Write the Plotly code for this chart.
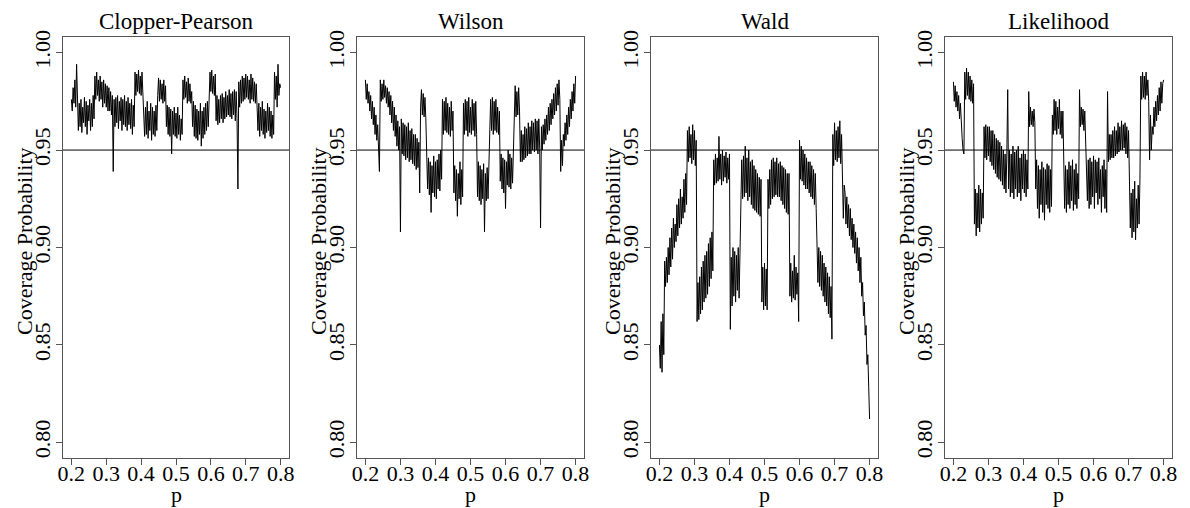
import plotly.graph_objects as go

# p grid (read along the x axis, step 0.0025)
p_values = [
    0.2000, 0.2025, 0.2050, 0.2075, 0.2100, 0.2125, 0.2150, 0.2175,
    0.2200, 0.2225, 0.2250, 0.2275, 0.2300, 0.2325, 0.2350, 0.2375,
    0.2400, 0.2425, 0.2450, 0.2475, 0.2500, 0.2525, 0.2550, 0.2575,
    0.2600, 0.2625, 0.2650, 0.2675, 0.2700, 0.2725, 0.2750, 0.2775,
    0.2800, 0.2825, 0.2850, 0.2875, 0.2900, 0.2925, 0.2950, 0.2975,
    0.3000, 0.3025, 0.3050, 0.3075, 0.3100, 0.3125, 0.3150, 0.3175,
    0.3200, 0.3225, 0.3250, 0.3275, 0.3300, 0.3325, 0.3350, 0.3375,
    0.3400, 0.3425, 0.3450, 0.3475, 0.3500, 0.3525, 0.3550, 0.3575,
    0.3600, 0.3625, 0.3650, 0.3675, 0.3700, 0.3725, 0.3750, 0.3775,
    0.3800, 0.3825, 0.3850, 0.3875, 0.3900, 0.3925, 0.3950, 0.3975,
    0.4000, 0.4025, 0.4050, 0.4075, 0.4100, 0.4125, 0.4150, 0.4175,
    0.4200, 0.4225, 0.4250, 0.4275, 0.4300, 0.4325, 0.4350, 0.4375,
    0.4400, 0.4425, 0.4450, 0.4475, 0.4500, 0.4525, 0.4550, 0.4575,
    0.4600, 0.4625, 0.4650, 0.4675, 0.4700, 0.4725, 0.4750, 0.4775,
    0.4800, 0.4825, 0.4850, 0.4875, 0.4900, 0.4925, 0.4950, 0.4975,
    0.5000, 0.5025, 0.5050, 0.5075, 0.5100, 0.5125, 0.5150, 0.5175,
    0.5200, 0.5225, 0.5250, 0.5275, 0.5300, 0.5325, 0.5350, 0.5375,
    0.5400, 0.5425, 0.5450, 0.5475, 0.5500, 0.5525, 0.5550, 0.5575,
    0.5600, 0.5625, 0.5650, 0.5675, 0.5700, 0.5725, 0.5750, 0.5775,
    0.5800, 0.5825, 0.5850, 0.5875, 0.5900, 0.5925, 0.5950, 0.5975,
    0.6000, 0.6025, 0.6050, 0.6075, 0.6100, 0.6125, 0.6150, 0.6175,
    0.6200, 0.6225, 0.6250, 0.6275, 0.6300, 0.6325, 0.6350, 0.6375,
    0.6400, 0.6425, 0.6450, 0.6475, 0.6500, 0.6525, 0.6550, 0.6575,
    0.6600, 0.6625, 0.6650, 0.6675, 0.6700, 0.6725, 0.6750, 0.6775,
    0.6800, 0.6825, 0.6850, 0.6875, 0.6900, 0.6925, 0.6950, 0.6975,
    0.7000, 0.7025, 0.7050, 0.7075, 0.7100, 0.7125, 0.7150, 0.7175,
    0.7200, 0.7225, 0.7250, 0.7275, 0.7300, 0.7325, 0.7350, 0.7375,
    0.7400, 0.7425, 0.7450, 0.7475, 0.7500, 0.7525, 0.7550, 0.7575,
    0.7600, 0.7625, 0.7650, 0.7675, 0.7700, 0.7725, 0.7750, 0.7775,
    0.7800, 0.7825, 0.7850, 0.7875, 0.7900, 0.7925, 0.7950, 0.7975,
    0.8000,
]

clopper_pearson = [
    0.976, 0.970, 0.982, 0.974,  0.986, 0.972, 0.994, 0.968,
    0.960, 0.974, 0.962, 0.976,  0.959, 0.972, 0.964, 0.977,
    0.962, 0.975, 0.958, 0.973,  0.965, 0.976, 0.960, 0.974,
    0.962, 0.978, 0.966, 0.988,  0.976, 0.990, 0.978, 0.986,
    0.975, 0.988, 0.976, 0.985,  0.972, 0.986, 0.974, 0.984,
    0.972, 0.983, 0.970, 0.982,  0.970, 0.980, 0.968, 0.978,
    0.939, 0.976, 0.962, 0.977,  0.964, 0.978, 0.961, 0.975,
    0.965, 0.977, 0.960, 0.976,  0.963, 0.978, 0.962, 0.975,
    0.960, 0.977, 0.963, 0.974,  0.961, 0.976, 0.958, 0.973,
    0.962, 0.990, 0.978, 0.989,  0.980, 0.991, 0.979, 0.988,
    0.978, 0.990, 0.976, 0.964,  0.957, 0.972, 0.958, 0.975,
    0.956, 0.970, 0.960, 0.974,  0.955, 0.972, 0.958, 0.970,
    0.957, 0.973, 0.960, 0.978,  0.987, 0.975, 0.986, 0.976,
    0.984, 0.974, 0.986, 0.975,  0.983, 0.962, 0.973, 0.958,
    0.972, 0.957, 0.971, 0.948,  0.970, 0.958, 0.972, 0.957,
    0.969, 0.956, 0.972, 0.958,  0.968, 0.955, 0.966, 0.958,
    0.986, 0.976, 0.988, 0.977,  0.985, 0.974, 0.987, 0.975,
    0.984, 0.974, 0.980, 0.962,  0.975, 0.957, 0.973, 0.956,
    0.971, 0.955, 0.970, 0.958,  0.974, 0.952, 0.970, 0.956,
    0.972, 0.958, 0.974, 0.960,  0.975, 0.962, 0.976, 0.990,
    0.980, 0.991, 0.979, 0.988,  0.978, 0.989, 0.965, 0.978,
    0.963, 0.976, 0.964, 0.978,  0.966, 0.979, 0.964, 0.977,
    0.966, 0.980, 0.967, 0.978,  0.968, 0.981, 0.967, 0.979,
    0.966, 0.980, 0.968, 0.981,  0.965, 0.980, 0.966, 0.930,
    0.985, 0.972, 0.986, 0.974,  0.988, 0.975, 0.987, 0.976,
    0.989, 0.977, 0.988, 0.976,  0.986, 0.974, 0.989, 0.976,
    0.987, 0.975, 0.985, 0.974,  0.984, 0.972, 0.960, 0.974,
    0.957, 0.972, 0.960, 0.975,  0.958, 0.971, 0.956, 0.970,
    0.959, 0.974, 0.960, 0.972,  0.957, 0.970, 0.956, 0.968,
    0.958, 0.990, 0.976, 0.988,  0.972, 0.994, 0.978, 0.984,
    0.982,
]

wilson = [
    0.986, 0.976, 0.984, 0.974,  0.980, 0.970, 0.978, 0.966,
    0.975, 0.963, 0.972, 0.958,  0.968, 0.955, 0.963, 0.950,
    0.939, 0.986, 0.975, 0.984,  0.976, 0.986, 0.977, 0.983,
    0.974, 0.982, 0.972, 0.980,  0.968, 0.978, 0.964, 0.975,
    0.960, 0.972, 0.957, 0.968,  0.952, 0.965, 0.950, 0.962,
    0.908, 0.966, 0.948, 0.964,  0.947, 0.963, 0.945, 0.962,
    0.946, 0.964, 0.944, 0.960,  0.945, 0.961, 0.943, 0.958,
    0.942, 0.958, 0.940, 0.956,  0.941, 0.954, 0.928, 0.972,
    0.981, 0.968, 0.979, 0.967,  0.977, 0.966, 0.940, 0.930,
    0.946, 0.927, 0.944, 0.918,  0.942, 0.928, 0.947, 0.926,
    0.944, 0.925, 0.945, 0.930,  0.948, 0.929, 0.950, 0.935,
    0.976, 0.958, 0.975, 0.960,  0.977, 0.959, 0.974, 0.958,
    0.972, 0.957, 0.975, 0.960,  0.970, 0.928, 0.942, 0.924,
    0.940, 0.916, 0.938, 0.925,  0.944, 0.922, 0.940, 0.926,
    0.974, 0.958, 0.976, 0.960,  0.975, 0.957, 0.977, 0.959,
    0.972, 0.958, 0.976, 0.960,  0.974, 0.957, 0.975, 0.958,
    0.926, 0.944, 0.924, 0.942,  0.922, 0.940, 0.925, 0.943,
    0.908, 0.938, 0.924, 0.941,  0.925, 0.945, 0.958, 0.976,
    0.960, 0.977, 0.958, 0.975,  0.960, 0.976, 0.959, 0.972,
    0.958, 0.970, 0.934, 0.948,  0.930, 0.946, 0.928, 0.945,
    0.920, 0.944, 0.932, 0.950,  0.931, 0.948, 0.930, 0.946,
    0.933, 0.950, 0.968, 0.983,  0.967, 0.980, 0.968, 0.982,
    0.970, 0.944, 0.960, 0.944,  0.958, 0.945, 0.962, 0.946,
    0.961, 0.947, 0.964, 0.948,  0.962, 0.948, 0.965, 0.950,
    0.964, 0.949, 0.966, 0.950,  0.965, 0.948, 0.966, 0.951,
    0.910, 0.962, 0.950, 0.963,  0.953, 0.966, 0.955, 0.968,
    0.958, 0.972, 0.960, 0.974,  0.963, 0.976, 0.966, 0.979,
    0.968, 0.982, 0.970, 0.984,  0.973, 0.986, 0.976, 0.939,
    0.955, 0.942, 0.958, 0.952,  0.964, 0.955, 0.968, 0.958,
    0.972, 0.962, 0.976, 0.966,  0.980, 0.970, 0.984, 0.974,
    0.988,
]

wald = [
    0.850, 0.838, 0.862, 0.836,  0.866, 0.845, 0.893, 0.880,
    0.895, 0.882, 0.900, 0.886,  0.905, 0.890, 0.910, 0.894,
    0.915, 0.900, 0.912, 0.903,  0.922, 0.906, 0.925, 0.910,
    0.930, 0.912, 0.926, 0.915,  0.935, 0.918, 0.938, 0.922,
    0.960, 0.944, 0.962, 0.946,  0.958, 0.943, 0.963, 0.945,
    0.960, 0.942, 0.955, 0.862,  0.882, 0.863, 0.885, 0.866,
    0.890, 0.868, 0.893, 0.872,  0.896, 0.874, 0.898, 0.876,
    0.902, 0.880, 0.905, 0.884,  0.908, 0.888, 0.945, 0.932,
    0.948, 0.933, 0.946, 0.934,  0.957, 0.935, 0.948, 0.932,
    0.950, 0.934, 0.947, 0.936,  0.949, 0.933, 0.946, 0.935,
    0.948, 0.858, 0.895, 0.870,  0.900, 0.875, 0.898, 0.872,
    0.896, 0.878, 0.900, 0.874,  0.897, 0.930, 0.945, 0.925,
    0.947, 0.926, 0.952, 0.928,  0.946, 0.924, 0.950, 0.926,
    0.944, 0.922, 0.945, 0.920,  0.942, 0.919, 0.940, 0.918,
    0.938, 0.917, 0.936, 0.916,  0.935, 0.872, 0.890, 0.868,
    0.892, 0.870, 0.889, 0.868,  0.935, 0.920, 0.940, 0.922,
    0.945, 0.925, 0.946, 0.926,  0.944, 0.927, 0.946, 0.926,
    0.943, 0.926, 0.944, 0.924,  0.942, 0.922, 0.941, 0.920,
    0.940, 0.918, 0.938, 0.917,  0.938, 0.875, 0.892, 0.872,
    0.888, 0.874, 0.896, 0.873,  0.890, 0.876, 0.887, 0.862,
    0.955, 0.935, 0.952, 0.934,  0.950, 0.932, 0.948, 0.930,
    0.946, 0.930, 0.944, 0.928,  0.944, 0.926, 0.942, 0.925,
    0.940, 0.922, 0.938, 0.920,  0.905, 0.882, 0.900, 0.880,
    0.898, 0.878, 0.896, 0.875,  0.892, 0.872, 0.890, 0.870,
    0.887, 0.866, 0.885, 0.864,  0.880, 0.853, 0.958, 0.942,
    0.964, 0.945, 0.960, 0.944,  0.962, 0.946, 0.965, 0.943,
    0.958, 0.930, 0.915, 0.932,  0.928, 0.912, 0.926, 0.910,
    0.922, 0.906, 0.920, 0.904,  0.915, 0.900, 0.912, 0.897,
    0.908, 0.892, 0.905, 0.888,  0.900, 0.882, 0.895, 0.875,
    0.882, 0.865, 0.872, 0.855,  0.860, 0.840, 0.845, 0.828,
    0.812,
]

likelihood = [
    0.985, 0.975, 0.983, 0.972,  0.980, 0.970, 0.978, 0.966,
    0.974, 0.960, 0.956, 0.950,  0.948, 0.990, 0.976, 0.992,
    0.978, 0.990, 0.976, 0.988,  0.975, 0.986, 0.974, 0.984,
    0.912, 0.930, 0.906, 0.928,  0.910, 0.932, 0.908, 0.930,
    0.912, 0.928, 0.915, 0.962,  0.946, 0.963, 0.945, 0.962,
    0.947, 0.962, 0.944, 0.960,  0.942, 0.960, 0.940, 0.958,
    0.938, 0.956, 0.936, 0.955,  0.935, 0.954, 0.934, 0.952,
    0.932, 0.950, 0.930, 0.948,  0.928, 0.948, 0.981, 0.930,
    0.950, 0.926, 0.948, 0.928,  0.952, 0.925, 0.949, 0.930,
    0.950, 0.926, 0.952, 0.928,  0.946, 0.924, 0.948, 0.930,
    0.950, 0.928, 0.948, 0.926,  0.945, 0.930, 0.980, 0.962,
    0.972, 0.963, 0.970, 0.962,  0.971, 0.964, 0.930, 0.945,
    0.920, 0.942, 0.915, 0.940,  0.922, 0.944, 0.918, 0.941,
    0.914, 0.940, 0.922, 0.943,  0.920, 0.942, 0.918, 0.940,
    0.921, 0.968, 0.958, 0.976,  0.960, 0.975, 0.958, 0.972,
    0.961, 0.976, 0.958, 0.970,  0.956, 0.970, 0.938, 0.920,
    0.942, 0.918, 0.940, 0.922,  0.944, 0.920, 0.942, 0.924,
    0.945, 0.919, 0.940, 0.922,  0.943, 0.920, 0.938, 0.925,
    0.981, 0.962, 0.972, 0.963,  0.971, 0.960, 0.970, 0.958,
    0.942, 0.924, 0.945, 0.920,  0.946, 0.922, 0.944, 0.926,
    0.947, 0.920, 0.945, 0.928,  0.944, 0.922, 0.946, 0.925,
    0.940, 0.918, 0.942, 0.926,  0.945, 0.920, 0.940, 0.918,
    0.980, 0.944, 0.958, 0.945,  0.958, 0.946, 0.960, 0.946,
    0.962, 0.947, 0.960, 0.948,  0.964, 0.949, 0.962, 0.950,
    0.965, 0.950, 0.963, 0.951,  0.964, 0.948, 0.962, 0.946,
    0.960, 0.930, 0.910, 0.928,  0.905, 0.930, 0.908, 0.934,
    0.904, 0.925, 0.910, 0.932,  0.912, 0.935, 0.988, 0.976,
    0.990, 0.977, 0.988, 0.976,  0.990, 0.978, 0.986, 0.975,
    0.945, 0.968, 0.950, 0.962,  0.958, 0.972, 0.962, 0.975,
    0.965, 0.978, 0.968, 0.982,  0.970, 0.985, 0.974, 0.984,
    0.986,
]

panel_titles = ["Clopper-Pearson", "Wilson", "Wald", "Likelihood"]
series = [clopper_pearson, wilson, wald, likelihood]
nominal_level = 0.95
x_title = "p"
y_title = "Coverage Probability"

x_ticks = [0.2, 0.3, 0.4, 0.5, 0.6, 0.7, 0.8]
x_tick_labels = ["0.2", "0.3", "0.4", "0.5", "0.6", "0.7", "0.8"]
y_ticks = [0.80, 0.85, 0.90, 0.95, 1.00]
y_tick_labels = ["0.80", "0.85", "0.90", "0.95", "1.00"]

# the page body has an 8px margin, so the figure is drawn 8px in from the corner
OFF = 8
W, H = 1190 - OFF, 508 - OFF
FONT = "Liberation Serif"
AXIS_COLOR = "#555555"
TXT = dict(family=FONT, size=22, color="black")

panel_px = [(63 - OFF, 289 - OFF), (357 - OFF, 584 - OFF),
            (651 - OFF, 878 - OFF), (945 - OFF, 1172 - OFF)]
top_px, bottom_px = 37 - OFF, 458 - OFF
y_domain = [(H - bottom_px) / H, (H - top_px) / H]

fig = go.Figure()
layout = dict(
    width=W, height=H,
    margin=dict(l=0, r=0, t=0, b=0, autoexpand=False),
    paper_bgcolor="white", plot_bgcolor="white",
    showlegend=False,
    font=TXT,
)

annotations = []
shapes = []
for i, (title, vals) in enumerate(zip(panel_titles, series)):
    n = "" if i == 0 else str(i + 1)
    fig.add_trace(go.Scatter(
        x=p_values, y=vals, mode="lines",
        line=dict(color="black", width=1),
        xaxis="x" + n, yaxis="y" + n, hoverinfo="skip",
    ))
    x0, x1 = panel_px[i]
    layout["xaxis" + n] = dict(
        domain=[x0 / W, x1 / W], anchor="y" + n,
        range=[0.176, 0.824], automargin=False,
        tickmode="array", tickvals=x_ticks, ticktext=x_tick_labels,
        showgrid=False, zeroline=False,
        showline=True, mirror=True, linecolor=AXIS_COLOR, linewidth=1,
        ticks="outside", ticklen=6, tickcolor=AXIS_COLOR, tickwidth=1,
        tickfont=TXT, ticklabelstandoff=-10,
        fixedrange=True,
    )
    layout["yaxis" + n] = dict(
        domain=y_domain, anchor="x" + n,
        range=[0.792, 1.008], automargin=False,
        tickmode="array", tickvals=y_ticks, ticktext=y_tick_labels,
        tickangle=-90, ticklabelstandoff=-3,
        showgrid=False, zeroline=False,
        showline=True, mirror=True, linecolor=AXIS_COLOR, linewidth=1,
        ticks="outside", ticklen=6, tickcolor=AXIS_COLOR, tickwidth=1,
        tickfont=TXT,
        fixedrange=True,
    )
    shapes.append(dict(
        type="line", xref="x" + n + " domain", yref="y" + n,
        x0=0, x1=1, y0=nominal_level, y1=nominal_level,
        line=dict(color="black", width=1),
    ))
    annotations.append(dict(
        text=title, xref="paper", yref="paper",
        x=(x0 + x1) / 2 / W, y=1.0,
        xanchor="center", yanchor="top", showarrow=False, borderpad=0,
        font=dict(family=FONT, size=23, color="black"),
    ))
    annotations.append(dict(
        text=y_title, xref="paper", yref="paper",
        x=(x0 - 38) / W, y=(H - (241 - OFF)) / H, textangle=-90,
        xanchor="center", yanchor="middle", showarrow=False,
        font=TXT,
    ))
    annotations.append(dict(
        text=x_title, xref="paper", yref="paper",
        x=(x0 + x1) / 2 / W, y=(H - (494 - OFF)) / H,
        xanchor="center", yanchor="middle", showarrow=False, borderpad=0,
        font=TXT,
    ))

layout["annotations"] = annotations
layout["shapes"] = shapes
fig.update_layout(**layout)
fig.write_html("out.html")
